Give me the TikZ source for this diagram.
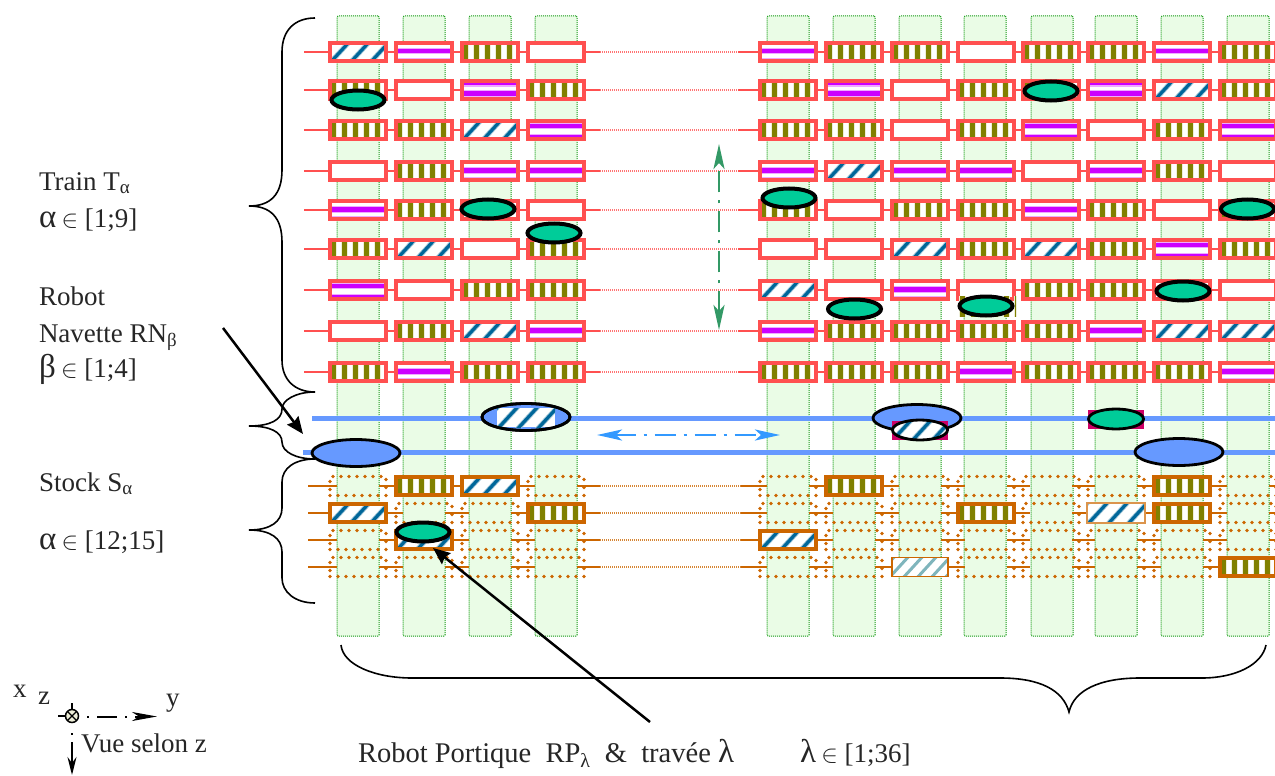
\documentclass[tikz,border=0pt]{standalone}
\usepackage{fontspec}
\setmainfont{Liberation Serif}
\usetikzlibrary{arrows.meta,shapes.geometric}
\pgfdeclarelayer{bandlayer}
\pgfdeclarelayer{linklayer}
\pgfsetlayers{bandlayer,linklayer,main}
\definecolor{trainred}{HTML}{FF5050}
\definecolor{stockor}{HTML}{CC6600}
\definecolor{bandfill}{HTML}{EAFCE6}
\definecolor{bandline}{HTML}{119911}
\definecolor{olv}{HTML}{808000}
\definecolor{olvlight}{HTML}{EEEED8}
\definecolor{purp}{HTML}{CC00FF}
\definecolor{purplight}{HTML}{EEAAFF}
\definecolor{hatchb}{HTML}{006699}
\definecolor{hatchl}{HTML}{A5C8DA}
\definecolor{hatcht}{HTML}{7FB5BC}
\definecolor{navblue}{HTML}{6699FF}
\definecolor{robgreen}{HTML}{00CC99}
\definecolor{arrgreen}{HTML}{339966}
\definecolor{arrblue}{HTML}{3399FF}
\definecolor{magcorner}{HTML}{CC0066}
\def\colx{358,424,490,556,788,854,920,986,1051,1116,1182,1248}
\newcommand{\bigG}[1]{{\fontsize{33}{30}\selectfont #1}}
\tikzset{
  x=1pt,y=-1pt,
  band/.style={draw=bandline,densely dotted,line width=1pt,fill=bandfill,rounded corners=1pt,minimum width=42pt,minimum height=620pt,inner sep=0pt,outer sep=0pt},
  cellbase/.style={rectangle,minimum width=56pt,minimum height=18pt,inner sep=0pt,outer sep=0pt,fill=white},
  train/.style={cellbase,draw=trainred,line width=4pt},
  stocksolid/.style={cellbase,draw=stockor,line width=4pt},
  stockdots/.style={rectangle,minimum width=56pt,minimum height=19pt,inner sep=0pt,outer sep=0pt,draw=stockor,line width=3.8pt,line cap=round,dash pattern=on 0pt off 8pt},
  patW/.style={},
  patV/.style={path picture={\foreach \k in {0,...,5}{
      \fill[olvlight,shift={(path picture bounding box.center)}] (-28+\k*11,-12) rectangle ++(7,24);
      \fill[olv,shift={(path picture bounding box.center)}] (-27+\k*11,-12) rectangle ++(4.6,24);}}},
  patP/.style={path picture={\begin{scope}[shift={(path picture bounding box.center)}]
      \fill[purp] (-30,-3) rectangle (30,1.5);
      \fill[purplight] (-30,-4) rectangle (30,-3);\fill[purplight] (-30,1.5) rectangle (30,2.5);
      \fill[purplight] (-30,6) rectangle (30,8);\fill[purplight] (-30,-9) rectangle (30,-7.5);
      \end{scope}}},
  patQ/.style={path picture={\begin{scope}[shift={(path picture bounding box.center)}]
      \fill[purp] (-30,-9) rectangle (30,-4.5);
      \fill[purplight] (-30,-4.5) rectangle (30,-3);
      \fill[purplight] (-30,0.5) rectangle (30,1.5);
      \fill[purp] (-30,1.5) rectangle (30,6.5);
      \fill[purplight] (-30,6.5) rectangle (30,9);
      \end{scope}}},
  patR/.style={path picture={\begin{scope}[shift={(path picture bounding box.center)}]
      \fill[purplight] (-30,-8) rectangle (30,-6.5);
      \fill[purp] (-30,-6.5) rectangle (30,-2);
      \fill[purplight] (-30,-2) rectangle (30,-1);
      \fill[purplight] (-30,3.5) rectangle (30,5);
      \fill[purp] (-30,5) rectangle (30,9);
      \end{scope}}},
  patH/.style={path picture={\foreach \k in {-2,...,2}{
      \draw[hatchl,line width=5pt,shift={(path picture bounding box.center)}] (-9+\k*20,12) -- ++(22,-24);
      \draw[hatchb,line width=3.2pt,shift={(path picture bounding box.center)}] (-9+\k*20,12) -- ++(22,-24);}}},
  patL/.style={path picture={\foreach \k in {-3,...,3}{
      \draw[hatcht,line width=3pt,shift={(path picture bounding box.center)}] (-4+\k*14,12) -- ++(22,-24);}}},
  robot/.style={ellipse,draw=black,line width=4pt,fill=robgreen,minimum width=53pt,minimum height=19pt,inner sep=0pt,outer sep=0pt},
  robotthin/.style={ellipse,draw=black,line width=2.8pt,fill=robgreen,minimum width=55pt,minimum height=20pt,inner sep=0pt,outer sep=0pt},
  navette/.style={ellipse,draw=black,line width=2.8pt,fill=navblue,minimum width=88pt,minimum height=27pt,inner sep=0pt,outer sep=0pt},
  railline/.style={draw=navblue,line width=5pt},
  reddot/.style={draw=trainred!80,line width=1.2pt,dash pattern=on 1pt off 1pt},
  redlink/.style={draw=trainred,line width=2pt},
  orlink/.style={draw=stockor,line width=2pt},
  ordot/.style={draw=stockor!80,line width=1.2pt,dash pattern=on 1pt off 1pt},
  brace/.style={draw=black,line width=1.6pt},
  lead/.style={draw=black,line width=2.5pt,-{Stealth[length=17pt,width=14pt,inset=2pt]}},
  movearrow/.style={line width=2.6pt,dash pattern=on 21pt off 8pt on 3pt off 8pt,{Stealth[length=25pt,width=11pt,inset=6pt]}-{Stealth[length=25pt,width=11pt,inset=6pt]}},
  axis/.style={draw=black,line width=2pt,dash pattern=on 2pt off 8pt on 20pt off 8pt,-{Stealth[length=25pt,width=9pt,inset=7pt]}},
  axisdown/.style={draw=black,line width=2pt,dash pattern=on 2pt off 7pt on 34pt off 7pt,-{Stealth[length=18pt,width=9pt,inset=6pt]}},
  lbl/.style={anchor=base west,inner sep=0pt,outer sep=0pt,font=\fontsize{27}{30}\selectfont,text=black!85},
}
\begin{document}
\begin{tikzpicture}
\path[use as bounding box] (0,0) rectangle (1275,776);
% bands
\begin{pgfonlayer}{bandlayer}
\foreach \bx [count=\c] in {358,424,490,556,788,854,920,985,1052,1116,1182,1248}
  \node[band] (band\c) at (\bx,326) {};
\end{pgfonlayer}
% train rows
\foreach \r/\yy/\lst in {
  1/52/{H,P,V,W,P,V,V,W,V,V,P,V},
  2/90/{V,W,Q,V,V,Q,W,V,V,Q,H,V},
  3/130/{V,V,H,R,V,V,W,V,R,W,V,R},
  4/171/{W,V,P,P,P,H,P,P,W,P,V,W},
  5/210/{P,V,W,W,V,W,V,V,P,V,W,V},
  6/249/{V,H,W,V,W,W,H,V,H,V,R,V},
  7/290/{R,W,V,V,H,W,P,W,V,V,W,W},
  8/331/{W,V,H,P,P,V,V,V,V,P,H,H},
  9/372/{V,P,V,V,V,V,V,P,V,V,V,P}}{
  \foreach \k [count=\c] in \lst {
    \pgfmathsetmacro\xx{{\colx}[\c-1]}
    \node[train,pat\k] (t\r-\c) at (\xx,\yy) {};
  }
  \coordinate (tl\r) at (304,\yy);
  \coordinate (tm\r) at (600,\yy);
  \coordinate (tn\r) at (738,\yy);
  \coordinate (tz\r) at (1275,\yy);
  \begin{pgfonlayer}{linklayer}
    \draw[redlink] (tl\r) -- (t\r-1.west);
    \foreach \a/\b in {1/2,2/3,3/4,5/6,6/7,7/8,8/9,9/10,10/11,11/12}
      \draw[redlink] (t\r-\a) -- (t\r-\b);
    \draw[redlink] (t\r-4) -- (tm\r);
    \draw[reddot] (tm\r) -- (tn\r);
    \draw[redlink] (tn\r) -- (t\r-5);
    \draw[redlink] (t\r-12) -- (tz\r);
  \end{pgfonlayer}
}
% hidden olive cell behind robot
\node[rectangle,minimum width=58pt,minimum height=20pt,inner sep=0pt,patV] (hid) at (987,306) {};
% stock rows
\foreach \r/\yy/\lst in {
  1/486/{d,V,H,d,d,V,d,d,d,d,V,d},
  2/513/{H,d,d,V,d,d,d,V,d,e,V,d},
  3/540/{d,H,d,d,H,d,d,d,d,d,d,d},
  4/567/{d,d,d,d,d,d,l,d,d,d,d,V}}{
  \foreach \k [count=\c] in \lst {
    \pgfmathsetmacro\xx{{\colx}[\c-1]}
    \if\k d
      \node[stockdots] (s\r-\c) at (\xx,\yy) {};
    \else\if\k l
      \node[cellbase,patL,draw=stockor,line width=1.5pt,minimum height=19pt] (s\r-\c) at (\xx,\yy) {};
    \else\if\k e
      \node[cellbase,patH,draw=stockor!70,line width=1.2pt,minimum height=20pt,minimum width=58pt] (s\r-\c) at (\xx,\yy) {};
    \else
      \node[stocksolid,pat\k] (s\r-\c) at (\xx,\yy) {};
    \fi\fi\fi
  }
  \coordinate (sl\r) at (308,\yy);
  \coordinate (sm\r) at (600,\yy);
  \coordinate (sn\r) at (741,\yy);
  \coordinate (sz\r) at (1275,\yy);
  \begin{pgfonlayer}{linklayer}
    \draw[orlink] (sl\r) -- ([xshift=7pt]s\r-1.west);
    \foreach \a/\b in {1/2,2/3,3/4,5/6,6/7,7/8,8/9,9/10,10/11,11/12}
      \draw[orlink] ([xshift=-7pt]s\r-\a.east) -- ([xshift=7pt]s\r-\b.west);
    \draw[orlink] ([xshift=-7pt]s\r-4.east) -- (sm\r);
    \draw[ordot] (sm\r) -- (sn\r);
    \draw[orlink] (sn\r) -- ([xshift=7pt]s\r-5.west);
    \draw[orlink] ([xshift=-7pt]s\r-12.east) -- (sz\r);
  \end{pgfonlayer}
}
% rails
\coordinate (r1a) at (312,418); \coordinate (r1b) at (1275,418);
\coordinate (r2a) at (303,452); \coordinate (r2b) at (1275,452);
\draw[railline] (r1a) -- (r1b);
\draw[railline] (r2a) -- (r2b);
% navettes
\node[navette] (n1) at (526,417) {};
\node[rectangle,minimum width=58pt,minimum height=19pt,inner sep=0pt,fill=white,patH] (n1load) at (526,417.5) {};
\node[navette,fill=none] (n1o) at (526,417) {};
\node[navette] (n2) at (356,453) {};
\node[navette] (n3) at (917,418) {};
\node[navette] (n4) at (1179,452) {};
\node[rectangle,minimum width=56pt,minimum height=19pt,inner sep=0pt,fill=magcorner] (n3c) at (920,430) {};
\node[robotthin,fill=white,patH] (n3r) at (920,430) {};
\node[rectangle,minimum width=56pt,minimum height=19pt,inner sep=0pt,fill=magcorner] (n5c) at (1116,419) {};
\node[robotthin] (n5r) at (1116,419) {};
% robots
\foreach \nm/\ex/\ey in {a/358/100,b/488/209,c/554/233,d/789/198,e/854.5/309,f/986/306,g/1051/91,h/1183/291,i/1247.5/209,j/423/532}
  \node[robot] (rob\nm) at (\ex,\ey) {};
% braces
\draw[brace] (315,18) .. controls (295,18) and (282,30) .. (282,52) -- (282,170) .. controls (282,195) and (270,206) .. (249,206) .. controls (270,206) and (282,217) .. (282,242) -- (282,360) .. controls (282,380) and (295,392) .. (315,392);
\draw[brace] (315,392) .. controls (296,392) and (282,400) .. (282,409) .. controls (282,420) and (270,426) .. (249,426) .. controls (270,426) and (282,432) .. (282,442) .. controls (282,452) and (296,459) .. (315,459);
\draw[brace] (315,459) .. controls (295,459) and (282,468) .. (282,482) -- (282,508) .. controls (282,522) and (270,530) .. (249,530) .. controls (270,530) and (282,538) .. (282,552) -- (282,578) .. controls (282,592) and (295,603) .. (315,603);
\draw[brace] (341,645) .. controls (343,665) and (375,678) .. (412,678) -- (1000,678) .. controls (1040,678) and (1063,690) .. (1069,712) .. controls (1074,690) and (1100,678) .. (1140,678) -- (1202,678) .. controls (1235,678) and (1262,665) .. (1266,645);
% leader arrows
\coordinate (la1) at (223,328); \coordinate (la2) at (303,434);
\draw[lead] (la1) -- (la2);
\coordinate (lb1) at (650,722); \coordinate (lb2) at (433,548);
\draw[lead] (lb1) -- (lb2);
% motion arrows
\coordinate (ga) at (719,330); \coordinate (gb) at (719,144);
\draw[movearrow,arrgreen] (ga) -- (gb);
\coordinate (ba) at (597,435); \coordinate (bb) at (780,435);
\draw[movearrow,arrblue] (ba) -- (bb);
% axes
\node[circle,draw=black,line width=1.5pt,fill=olvlight,minimum size=13pt,inner sep=0pt,outer sep=0pt] (ax) at (72,716) {};
\draw[black,line width=1.2pt] (ax.north west) -- (ax.south east);
\draw[black,line width=1.2pt] (ax.north east) -- (ax.south west);
\coordinate (axl) at (58,716); \coordinate (axt) at (72,703);
\draw[black,line width=2pt] (axl) -- (ax.west);
\draw[black,line width=2pt] (axt) -- (ax.north);
\coordinate (axy) at (157,716.5); \coordinate (axx) at (72,775);
\coordinate (ays) at (87,716.5); \coordinate (axs) at (72,733);
\draw[axis] (ays) -- (axy);
\draw[axisdown] (axs) -- (axx);
% labels
\node[lbl] (l1) at (39,190) {Train T\textsubscript{α}};
\node[lbl] (l2) at (39,227) {\bigG{α}\kern-1.5pt\ $\in$ [1;9]};
\node[lbl] (l3) at (39,305) {Robot};
\node[lbl] (l4) at (39,342) {Navette RN\textsubscript{β}};
\node[lbl] (l5) at (39,377) {\bigG{β}\kern-1.5pt\ $\in$ [1;4]};
\node[lbl] (l6) at (39,491) {Stock S\textsubscript{α}};
\node[lbl] (l7) at (39,549) {\bigG{α}\kern-1.5pt\ $\in$ [12;15]};
\node[lbl,font=\fontsize{28.5}{30}\selectfont] (l8) at (358,762) {Robot Portique\ \ RP\textsubscript{λ}\ \ \&\ \ travée \bigG{λ}};
\node[lbl] (l9) at (800,762) {\bigG{λ}\kern-1.5pt\ $\in$ [1;36]};
\node[lbl] (a1) at (13,697) {x};
\node[lbl] (a2) at (38,704) {z};
\node[lbl] (a3) at (166,706) {y};
\node[lbl] (a4) at (81,752) {Vue selon z};
\end{tikzpicture}
\end{document}
